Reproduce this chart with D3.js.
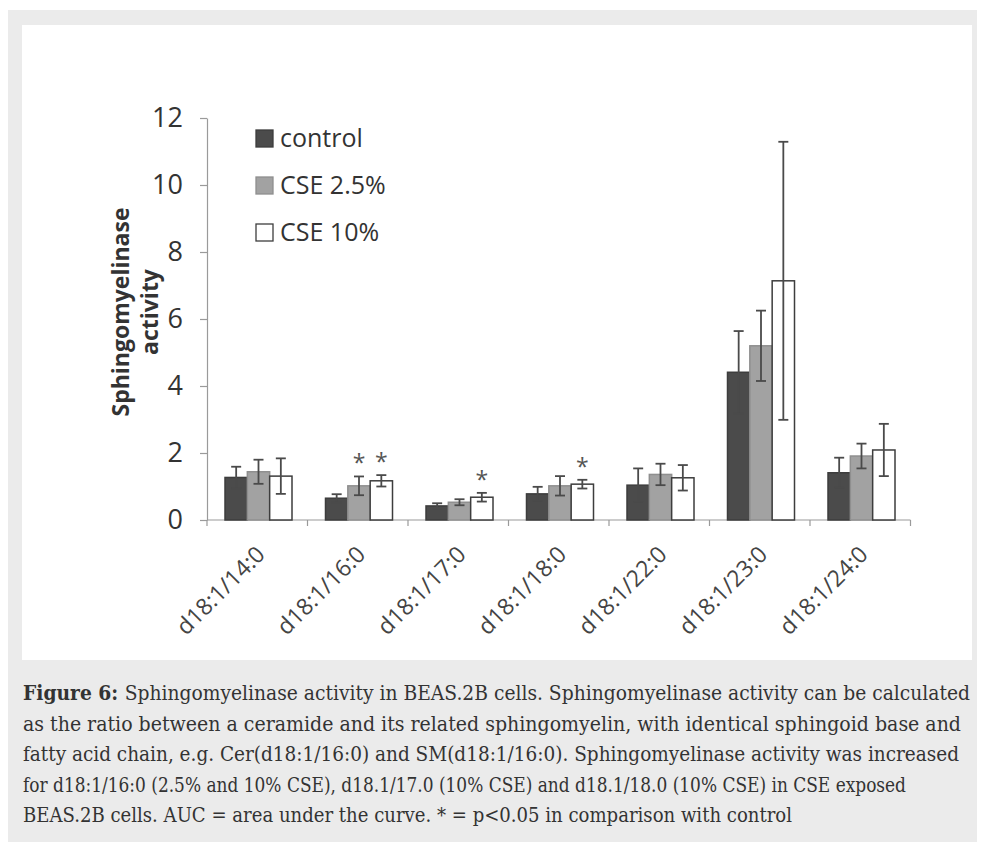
<!DOCTYPE html>
<html>
<head>
<meta charset="utf-8">
<script src="https://cdn.jsdelivr.net/npm/d3@7"></script>
<style>
  body { margin: 0; background: #fff; }
  svg { display: block; }
</style>
</head>
<body>
<div id="chart"></div>
<script>
const width = 982;
const height = 842;

// chart data
const categories = ["d18:1/14:0", "d18:1/16:0", "d18:1/17:0", "d18:1/18:0", "d18:1/22:0", "d18:1/23:0", "d18:1/24:0"];
const seriesNames = ["control", "CSE 2.5%", "CSE 10%"];
const control = [1.27, 0.65, 0.42, 0.78, 1.04, 4.41, 1.41];
const controlErr = [0.32, 0.12, 0.08, 0.21, 0.50, 1.23, 0.45];
const cse25 = [1.44, 1.02, 0.53, 1.02, 1.36, 5.20, 1.91];
const cse25Err = [0.36, 0.28, 0.09, 0.29, 0.32, 1.05, 0.37];
const cse10 = [1.31, 1.17, 0.68, 1.07, 1.26, 7.14, 2.09];
const cse10Err = [0.53, 0.17, 0.13, 0.13, 0.38, 4.15, 0.78];
const cse25Sig = [false, true, false, false, false, false, false];
const cse10Sig = [false, true, true, true, false, false, false];
const yTicks = [0, 2, 4, 6, 8, 10, 12];

const captionLines = [
    "Sphingomyelinase activity in BEAS.2B cells. Sphingomyelinase activity can be calculated",
    "as the ratio between a ceramide and its related sphingomyelin, with identical sphingoid base and",
    "fatty acid chain, e.g. Cer(d18:1/16:0) and SM(d18:1/16:0). Sphingomyelinase activity was increased",
    "for d18:1/16:0 (2.5% and 10% CSE), d18.1/17.0 (10% CSE) and d18.1/18.0 (10% CSE) in CSE exposed",
    "BEAS.2B cells. AUC = area under the curve. * = p<0.05 in comparison with control"
];
const captionWidths = [947, 938, 936, 883, 769];

const fills = { "control": "#4b4b4b", "CSE 2.5%": "#a2a2a2", "CSE 10%": "#ffffff" };
const strokes = { "control": "#3d3d3d", "CSE 2.5%": "#8f8f8f", "CSE 10%": "#3d3d3d" };

const rows = categories.map((c, i) => ({
    cat: c,
    bars: [
        { name: "control", v: control[i], e: controlErr[i], sig: false },
        { name: "CSE 2.5%", v: cse25[i], e: cse25Err[i], sig: cse25Sig[i] },
        { name: "CSE 10%", v: cse10[i], e: cse10Err[i], sig: cse10Sig[i] }
    ]
}));

const svg = d3.select("#chart")
    .append("svg")
    .attr("width", width)
    .attr("height", height);

// page frame: grey box with white chart panel
svg.append("rect").attr("x", 8).attr("y", 10).attr("width", 969).attr("height", 832).attr("fill", "#ebebeb");
svg.append("rect").attr("x", 22).attr("y", 25).attr("width", 950).attr("height", 635).attr("fill", "#ffffff");

const x = d3.scaleBand().domain(categories).range([207, 910.5]).padding(0);
const xs = d3.scaleBand().domain(seriesNames).range([18, 85]).padding(0);
const y = d3.scaleLinear().domain([0, 12]).range([520, 118]);

const chartFont = "'Open Sans', 'DejaVu Sans', sans-serif";

// y axis
const yAxis = svg.append("g")
    .attr("transform", "translate(207,0)")
    .call(d3.axisLeft(y).tickValues(yTicks).tickSize(7).tickSizeOuter(0).tickPadding(17));
yAxis.select(".domain").attr("stroke", "#9a9a9a").attr("stroke-width", 1.2);
yAxis.selectAll(".tick line").attr("stroke", "#9a9a9a").attr("stroke-width", 1.2);
yAxis.selectAll(".tick text")
    .attr("font-family", chartFont)
    .attr("font-size", 27)
    .attr("fill", "#333");

// x axis: baseline with ticks between categories
const xAxis = svg.append("g").attr("transform", "translate(0,520)");
xAxis.append("line")
    .attr("x1", x.range()[0]).attr("x2", x.range()[1])
    .attr("stroke", "#9a9a9a").attr("stroke-width", 1.2);
const bounds = categories.map(c => x(c)).concat([x.range()[1]]);
xAxis.selectAll(".xtick")
    .data(bounds)
    .enter()
    .append("line")
    .attr("class", "xtick")
    .attr("x1", d => d).attr("x2", d => d)
    .attr("y1", 0).attr("y2", 6)
    .attr("stroke", "#9a9a9a").attr("stroke-width", 1.2);

svg.selectAll(".xlabel")
    .data(categories)
    .enter()
    .append("text")
    .attr("class", "xlabel")
    .attr("transform", d => `translate(${x(d) + x.bandwidth() / 2 + 9},556) rotate(-45)`)
    .attr("text-anchor", "end")
    .attr("font-family", chartFont)
    .attr("font-size", 23)
    .attr("fill", "#444")
    .text(d => d);

// y axis title
const yTitle = svg.append("text")
    .attr("transform", "translate(129,312) rotate(-90)")
    .attr("text-anchor", "middle")
    .attr("font-family", chartFont)
    .attr("font-weight", "bold")
    .attr("font-size", 23)
    .attr("fill", "#333");
yTitle.append("tspan").attr("x", 0).attr("dy", 0).text("Sphingomyelinase");
yTitle.append("tspan").attr("x", 0).attr("dy", 29).text("activity");

// bars
const groups = svg.selectAll(".group")
    .data(rows)
    .enter()
    .append("g")
    .attr("class", "group")
    .attr("transform", d => `translate(${x(d.cat)},0)`);

groups.selectAll(".bar")
    .data(d => d.bars)
    .enter()
    .append("rect")
    .attr("class", "bar")
    .attr("x", d => xs(d.name))
    .attr("width", xs.bandwidth())
    .attr("y", d => y(d.v))
    .attr("height", d => y(0) - y(d.v))
    .attr("fill", d => fills[d.name])
    .attr("stroke", d => strokes[d.name])
    .attr("stroke-width", 1.5);

// error bars
const err = groups.selectAll(".err")
    .data(d => d.bars)
    .enter()
    .append("g")
    .attr("class", "err")
    .attr("stroke", "#4a4a4a")
    .attr("stroke-width", 1.8);
err.append("line")
    .attr("x1", d => xs(d.name) + xs.bandwidth() / 2)
    .attr("x2", d => xs(d.name) + xs.bandwidth() / 2)
    .attr("y1", d => y(d.v + d.e))
    .attr("y2", d => y(Math.max(0, d.v - d.e)));
err.append("line")
    .attr("x1", d => xs(d.name) + xs.bandwidth() / 2 - 5)
    .attr("x2", d => xs(d.name) + xs.bandwidth() / 2 + 5)
    .attr("y1", d => y(d.v + d.e))
    .attr("y2", d => y(d.v + d.e));
err.append("line")
    .attr("x1", d => xs(d.name) + xs.bandwidth() / 2 - 5)
    .attr("x2", d => xs(d.name) + xs.bandwidth() / 2 + 5)
    .attr("y1", d => y(Math.max(0, d.v - d.e)))
    .attr("y2", d => y(Math.max(0, d.v - d.e)));

// significance stars
groups.selectAll(".star")
    .data(d => d.bars.filter(b => b.sig))
    .enter()
    .append("text")
    .attr("class", "star")
    .attr("x", d => xs(d.name) + xs.bandwidth() / 2)
    .attr("y", d => y(d.v + d.e) - 5)
    .attr("text-anchor", "middle")
    .attr("font-family", chartFont)
    .attr("font-size", 23)
    .attr("fill", "#555")
    .text("*");

// legend
const legend = svg.selectAll(".legend")
    .data(seriesNames)
    .enter()
    .append("g")
    .attr("class", "legend")
    .attr("transform", (d, i) => `translate(256,${130 + i * 47})`);
legend.append("rect")
    .attr("width", 17).attr("height", 17)
    .attr("fill", d => fills[d])
    .attr("stroke", d => strokes[d])
    .attr("stroke-width", 1.3);
legend.append("text")
    .attr("x", 24).attr("y", 17)
    .attr("font-family", chartFont)
    .attr("font-size", 25)
    .attr("fill", "#333")
    .text(d => d);

// caption
const capFont = "'DejaVu Serif Condensed', 'DejaVu Serif', serif";
captionLines.forEach((line, i) => {
    const t = svg.append("text")
        .attr("x", 23)
        .attr("y", 700 + i * 30.5)
        .attr("font-family", capFont)
        .attr("font-size", 19.5)
        .attr("fill", "#333")
        .attr("textLength", captionWidths[i])
        .attr("lengthAdjust", "spacingAndGlyphs");
    if (i === 0) {
        t.append("tspan").attr("font-weight", "bold").text("Figure 6: ");
    }
    t.append("tspan").text(line);
});
</script>
</body>
</html>
